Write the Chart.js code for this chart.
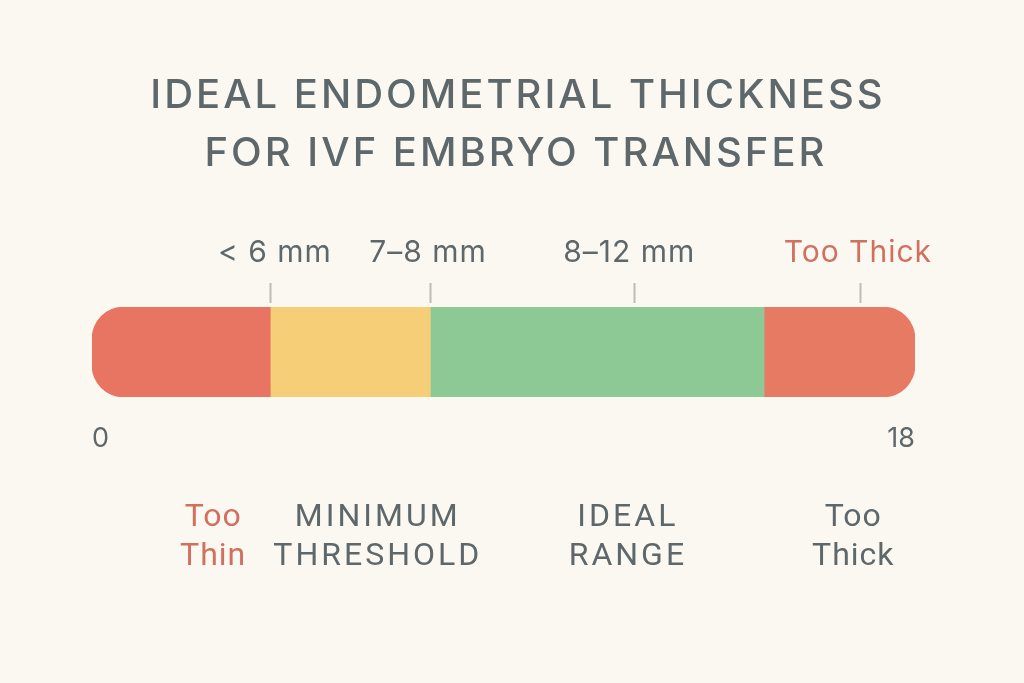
<!DOCTYPE html>
<html>
<head>
<meta charset="utf-8">
<script src="https://cdn.jsdelivr.net/npm/chart.js@4/dist/chart.umd.min.js"></script>
<style>
  html, body { margin: 0; padding: 0; background: #FBF8F2; }
  #wrap { width: 1024px; height: 683px; position: relative; }
</style>
</head>
<body>
<div id="wrap"><canvas id="c"></canvas></div>
<script>
// ---- data ----
const titleLines = ['IDEAL ENDOMETRIAL THICKNESS', 'FOR IVF EMBRYO TRANSFER'];
const segmentNames = ['Too Thin', 'Minimum Threshold', 'Ideal Range', 'Too Thick'];
const segmentValues = [3.9, 3.5, 7.3, 3.3];
const segmentColors = ['#E77562', '#F6CE78', '#8DC995', '#E77A62'];
const markerValues = [3.9, 7.4, 11.85, 16.8];
const markerLabels = ['< 6 mm', '7–8 mm', '8–12 mm', 'Too Thick'];
const markerLabelValues = [4.0, 7.35, 11.75, 16.75];
const axisTicks = [0, 18];
const bottomLabels = [['Too', 'Thin'], ['MINIMUM', 'THRESHOLD'], ['IDEAL', 'RANGE'], ['Too', 'Thick']];
const bottomLabelValues = [2.65, 6.25, 11.72, 16.65];

const GRAY = '#5E686A';
const RED_TEXT = '#D2705F';

const datasets = segmentValues.map((v, i) => {
  const first = i === 0, last = i === segmentValues.length - 1;
  return {
    label: segmentNames[i],
    data: [v],
    backgroundColor: segmentColors[i],
    borderWidth: 0,
    borderSkipped: false,
    borderRadius: {
      topLeft: first ? 32 : 0, bottomLeft: first ? 32 : 0,
      topRight: last ? 32 : 0, bottomRight: last ? 32 : 0
    },
    barPercentage: 1,
    categoryPercentage: 1
  };
});

const overlay = {
  id: 'overlay',
  afterDraw(chart) {
    const ctx = chart.ctx;
    const xs = chart.scales.x;
    const area = chart.chartArea;
    ctx.save();
    // title
    ctx.fillStyle = GRAY;
    ctx.textAlign = 'center';
    ctx.textBaseline = 'middle';
    ctx.font = '500 40px Inter, "Open Sans", sans-serif';
    ctx.letterSpacing = '3px';
    ctx.fillText(titleLines[0], 518, 96);
    ctx.fillText(titleLines[1], 516, 154);
    // marker ticks
    ctx.letterSpacing = '0px';
    ctx.strokeStyle = '#BDBDB8';
    ctx.lineWidth = 2;
    markerValues.forEach(v => {
      const x = Math.round(xs.getPixelForValue(v)) + 0.5;
      ctx.beginPath();
      ctx.moveTo(x, area.top - 24);
      ctx.lineTo(x, area.top - 4);
      ctx.stroke();
    });
    // marker labels
    ctx.font = '400 30px Inter, "Open Sans", sans-serif';
    ctx.letterSpacing = '1px';
    markerLabels.forEach((t, i) => {
      ctx.fillStyle = i === markerLabels.length - 1 ? RED_TEXT : GRAY;
      ctx.fillText(t, xs.getPixelForValue(markerLabelValues[i]), 253);
    });
    // bottom labels
    ctx.font = '400 32px Roboto, sans-serif';
    bottomLabels.forEach((lines, i) => {
      const upper = lines[0] === lines[0].toUpperCase();
      ctx.letterSpacing = upper ? '3px' : '1px';
      ctx.fillStyle = i === 0 ? RED_TEXT : GRAY;
      lines.forEach((t, j) => {
        ctx.fillText(t, xs.getPixelForValue(bottomLabelValues[i]), 518 + j * 39);
      });
    });
    ctx.restore();
  }
};

new Chart(document.getElementById('c'), {
  type: 'bar',
  data: { labels: ['Thickness'], datasets },
  options: {
    indexAxis: 'y',
    responsive: true,
    maintainAspectRatio: false,
    animation: false,
    layout: { padding: { left: 92, right: 109, top: 307, bottom: 0 } },
    plugins: { legend: { display: false }, tooltip: { enabled: false }, title: { display: false } },
    scales: {
      x: {
        type: 'linear', min: 0, max: 18, stacked: true,
        grid: { display: false, drawTicks: false },
        border: { display: false },
        afterBuildTicks(scale) { scale.ticks = axisTicks.map(v => ({ value: v })); },
        afterFit(scale) { scale.height = 683 - 397; },
        ticks: {
          padding: 26,
          align: 'inner',
          color: GRAY,
          font: { family: 'Inter, "Open Sans", sans-serif', size: 27 },
          maxRotation: 0,
          callback: v => String(v)
        }
      },
      y: { stacked: true, display: false }
    }
  },
  plugins: [overlay]
});
</script>
</body>
</html>
